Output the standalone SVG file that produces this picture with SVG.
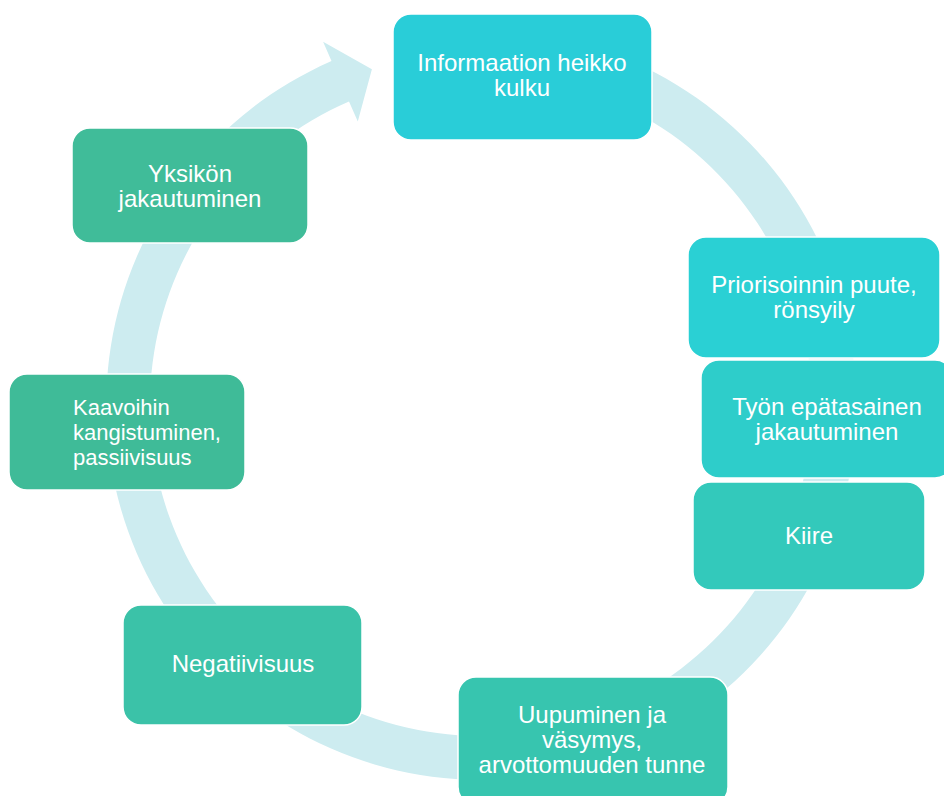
<svg xmlns="http://www.w3.org/2000/svg" width="944" height="796" viewBox="0 0 944 796">
<style>
.box{stroke:#ffffff;stroke-width:1.5}
.t{font-family:"Liberation Sans",Arial,sans-serif;font-size:24px;fill:#ffffff;text-anchor:middle}
.ring{fill:#CDECF0}
</style>
<rect width="944" height="796" fill="#ffffff"/>
<g id="connectors">
<path class="ring" d="M428.8,33.6 A375,375 0 1 1 331.5,61.1 L323.1,41.8 L371.9,69.3 L357.8,121.6 L349.0,101.4 A331,331 0 1 0 434.9,77.2 Z"/>
</g>
<g id="n1">
<rect class="box" x="393" y="14" width="259" height="126" rx="18" fill="#29CDD8"/>
<text class="t" x="522" y="71">Informaation heikko</text>
<text class="t" x="522" y="96">kulku</text>
</g>
<g id="n2">
<rect class="box" x="688" y="237" width="252" height="121" rx="18" fill="#2AD0D4"/>
<text class="t" x="814" y="293">Priorisoinnin puute,</text>
<text class="t" x="814" y="318">rönsyily</text>
</g>
<g id="n3">
<rect class="box" x="701" y="360" width="252" height="118" rx="18" fill="#2ECDCA"/>
<text class="t" x="827" y="415">Työn epätasainen</text>
<text class="t" x="827" y="440">jakautuminen</text>
</g>
<g id="n4">
<rect class="box" x="693" y="482" width="232" height="108" rx="18" fill="#33C9BB"/>
<text class="t" x="809" y="544">Kiire</text>
</g>
<g id="n5">
<rect class="box" x="458" y="677" width="270" height="128" rx="18" fill="#37C5AF"/>
<text class="t" x="592" y="723">Uupuminen ja</text>
<text class="t" x="592" y="748">väsymys,</text>
<text class="t" x="592" y="773">arvottomuuden tunne</text>
</g>
<g id="n6">
<rect class="box" x="123" y="605" width="239" height="120" rx="18" fill="#3BC2A8"/>
<text class="t" x="243" y="672">Negatiivisuus</text>
</g>
<g id="n7">
<rect class="box" x="9" y="374" width="236" height="116" rx="18" fill="#3FBB98"/>
<text class="t" x="73" y="415" style="text-anchor:start;font-size:22px">Kaavoihin</text>
<text class="t" x="73" y="440" style="text-anchor:start;font-size:22px">kangistuminen,</text>
<text class="t" x="73" y="465" style="text-anchor:start;font-size:22px">passiivisuus</text>
</g>
<g id="n8">
<rect class="box" x="72" y="128" width="236" height="115" rx="18" fill="#40BC99"/>
<text class="t" x="190" y="182">Yksikön</text>
<text class="t" x="190" y="207">jakautuminen</text>
</g>
</svg>
